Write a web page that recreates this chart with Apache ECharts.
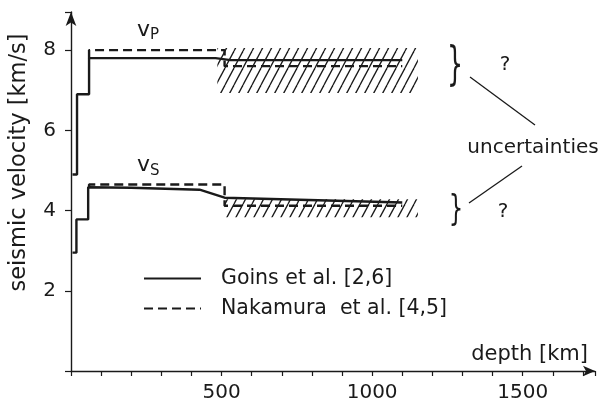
<!DOCTYPE html>
<html><head><meta charset="utf-8">
<script src="https://cdn.jsdelivr.net/npm/echarts@6/dist/echarts.min.js"></script>
<style>html,body{margin:0;padding:0;background:#fff}#c{width:603px;height:408px}</style>
</head><body><div id="c"></div>
<script>
// ---- data (depth km, velocity km/s) ----
const goinsVpDepth = [5, 20, 20, 60, 60, 480, 530, 1100];
const goinsVp      = [4.9, 4.9, 6.9, 6.9, 7.8, 7.8, 7.75, 7.75];
const goinsVsDepth = [5, 18, 18, 57, 57, 200, 427, 510, 1100];
const goinsVs      = [2.95, 2.95, 3.78, 3.78, 4.58, 4.57, 4.52, 4.32, 4.2];
const nakVpDepth   = [60, 60, 510, 510, 1100];
const nakVp        = [7.8, 8.0, 8.0, 7.6, 7.6];
const nakVsDepth   = [60, 60, 510, 510, 1100];
const nakVs        = [4.58, 4.65, 4.65, 4.12, 4.12];
const hatchVp      = [[486, 6.93], [1152, 8.05]];
const hatchVs      = [[509, 3.83], [1152, 4.28]];
const xLabels      = [500, 1000, 1500];
const yLabels      = [2, 4, 6, 8];
const legendNames  = ['Goins et al. [2,6]', 'Nakamura  et al. [4,5]'];

const zip = (a, b) => a.map((d, i) => [d, b[i]]);
const INK = '#1a1a1a';
const FONT = 'DejaVu Sans';

// hatch pattern
const pat = document.createElement('canvas');
pat.width = 9; pat.height = 17;
const g = pat.getContext('2d');
g.strokeStyle = INK; g.lineWidth = 1.3;
for (const off of [-9, 0, 9]) {
  g.beginPath(); g.moveTo(off, 17); g.lineTo(off + 9, 0); g.stroke();
}

const chart = echarts.init(document.getElementById('c'), null, {renderer: 'canvas'});
const solid = {color: INK, width: 2.4, type: 'solid'};
const dashed = {color: INK, width: 2.4, type: [9, 5]};
const area = (r) => [{coord: r[0]}, {coord: r[1]}];

chart.setOption({
  animation: false,
  grid: {left: 67, right: 8, top: 12, bottom: 37, containLabel: false},
  xAxis: {
    type: 'value', min: 0, max: 1740, interval: 100,
    axisLine: {lineStyle: {color: INK, width: 1.4}, symbol: ['none', 'arrow'], symbolSize: [8, 12]},
    axisTick: {show: true, length: 5, lineStyle: {color: INK, width: 1.2}},
    splitLine: {show: false},
    axisLabel: {margin: 12, color: INK, fontSize: 20, fontFamily: FONT,
      formatter: v => xLabels.includes(v) ? String(v) : ''},
    name: 'depth [km]', nameLocation: 'end', nameGap: 0,
    nameTextStyle: {fontSize: 21, color: INK, fontFamily: FONT, align: 'right', verticalAlign: 'bottom', padding: [0, 7, 6, 0]}
  },
  yAxis: {
    type: 'value', min: 0, max: 8.95, interval: 2,
    axisLine: {show: true, lineStyle: {color: INK, width: 1.4}, symbol: ['none', 'arrow'], symbolSize: [8, 14]},
    axisTick: {show: true, length: 6, lineStyle: {color: INK, width: 1.2}},
    splitLine: {show: false},
    axisLabel: {margin: 15, color: INK, fontSize: 20, fontFamily: FONT,
      formatter: v => yLabels.includes(v) ? String(v) : ''},
    name: 'seismic velocity [km/s]', nameLocation: 'middle', nameGap: 40, nameRotate: 90,
    nameTextStyle: {fontSize: 22.5, color: INK, fontFamily: FONT, padding: [0, 0, 0, 58]}
  },
  legend: {
    orient: 'vertical', left: 143, top: 268, padding: 0, itemWidth: 57, itemHeight: 14, itemGap: 9,
    data: legendNames,
    itemStyle: {opacity: 0, color: 'transparent', borderWidth: 0},
    textStyle: {fontSize: 20.5, color: INK, fontFamily: FONT, padding: [0, 0, 0, 15]}
  },
  series: [
    {name: legendNames[0], type: 'line', data: zip(goinsVpDepth, goinsVp), symbol: 'none', lineStyle: solid, itemStyle: {color: INK},
     markArea: {silent: true, itemStyle: {color: {image: pat, repeat: 'repeat'}}, label: {show: false}, data: [area(hatchVp), area(hatchVs)]}},
    {name: legendNames[0], type: 'line', data: zip(goinsVsDepth, goinsVs), symbol: 'none', lineStyle: solid, itemStyle: {color: INK}},
    {name: legendNames[1], type: 'line', data: zip(nakVpDepth, nakVp), symbol: 'none', lineStyle: dashed, itemStyle: {color: INK}},
    {name: legendNames[1], type: 'line', data: zip(nakVsDepth, nakVs), symbol: 'none', lineStyle: dashed, itemStyle: {color: INK}}
  ],
  graphic: [
    {type: 'text', left: 137, top: 19, style: {text: '{v|v}{s|P}', rich: {v: {fontSize: 22, fontFamily: FONT, fill: INK}, s: {fontSize: 15, fontFamily: FONT, fill: INK, padding: [10, 0, 0, 0]}}}},
    {type: 'text', left: 137, top: 154, style: {text: '{v|v}{s|S}', rich: {v: {fontSize: 22, fontFamily: FONT, fill: INK}, s: {fontSize: 15, fontFamily: FONT, fill: INK, padding: [12, 0, 0, 0]}}}},
    {type: 'text', x: 455, y: 67, style: {text: '}', fontSize: 46, fontFamily: FONT, fill: INK, align: 'center', verticalAlign: 'middle'}, scaleX: 0.55},
    {type: 'text', x: 456, y: 211, style: {text: '}', fontSize: 35, fontFamily: FONT, fill: INK, align: 'center', verticalAlign: 'middle'}, scaleX: 0.65},
    {type: 'text', x: 505, y: 65, style: {text: '?', fontSize: 20, fontFamily: FONT, fill: INK, align: 'center', verticalAlign: 'middle'}},
    {type: 'text', x: 503, y: 212, style: {text: '?', fontSize: 20, fontFamily: FONT, fill: INK, align: 'center', verticalAlign: 'middle'}},
    {type: 'text', x: 533, y: 148, style: {text: 'uncertainties', fontSize: 20, fontFamily: FONT, fill: INK, align: 'center', verticalAlign: 'middle'}},
    {type: 'line', shape: {x1: 470, y1: 77, x2: 535, y2: 125}, style: {stroke: INK, lineWidth: 1.3}},
    {type: 'line', shape: {x1: 469, y1: 203, x2: 522, y2: 166}, style: {stroke: INK, lineWidth: 1.3}}
  ]
});
</script></body></html>
